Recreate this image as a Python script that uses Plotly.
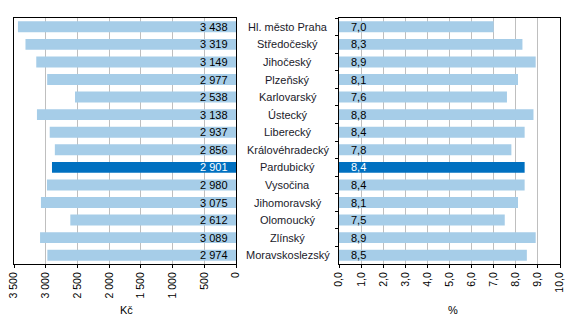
import plotly.graph_objects as go

regions = ["Hl. město Praha", "Středočeský", "Jihočeský", "Plzeňský", "Karlovarský",
           "Ústecký", "Liberecký", "Královéhradecký", "Pardubický", "Vysočina",
           "Jihomoravský", "Olomoucký", "Zlínský", "Moravskoslezský"]
amount_czk = [3438, 3319, 3149, 2977, 2538, 3138, 2937, 2856, 2901, 2980, 3075, 2612, 3089, 2974]
share_pct = [7.0, 8.3, 8.9, 8.1, 7.6, 8.8, 8.4, 7.8, 8.4, 8.4, 8.1, 7.5, 8.9, 8.5]
highlight = "Pardubický"

left_ticks = [3500, 3000, 2500, 2000, 1500, 1000, 500, 0]
right_ticks = [0, 1, 2, 3, 4, 5, 6, 7, 8, 9, 10]

LIGHT = "#A6CDE8"
DARK = "#0070C0"
FONT = "Liberation Sans"

colors = [DARK if r == highlight else LIGHT for r in regions]
txtcolors = ["white" if r == highlight else "black" for r in regions]

W, H = 577, 324
fig = go.Figure()
fig.add_trace(go.Bar(y=regions, x=amount_czk, orientation="h", marker_color=colors,
                     marker_line_width=0, xaxis="x", yaxis="y", hoverinfo="skip"))
fig.add_trace(go.Bar(y=regions, x=share_pct, orientation="h", marker_color=colors,
                     marker_line_width=0, xaxis="x2", yaxis="y2", hoverinfo="skip"))

annotations = []
for r, v, p, c in zip(regions, amount_czk, share_pct, txtcolors):
    annotations.append(dict(x=0, y=r, xref="x", yref="y", text=f"{v:,}".replace(",", " "),
                            xanchor="right", yanchor="middle", xshift=-6, showarrow=False,
                            font=dict(family=FONT, size=11, color=c)))
    annotations.append(dict(x=0, y=r, xref="x2", yref="y2", text=f"{p:.1f}".replace(".", ","),
                            xanchor="left", yanchor="middle", xshift=10, showarrow=False,
                            font=dict(family=FONT, size=11, color=c)))
    annotations.append(dict(x=287.5 / W, y=r, xref="paper", yref="y", text=r,
                            xanchor="center", yanchor="middle", showarrow=False,
                            font=dict(family=FONT, size=11, color="#1a1a2a")))
annotations.append(dict(x=126 / W, y=(H - 310) / H, xref="paper", yref="paper", text="Kč",
                        xanchor="center", yanchor="middle",
                        showarrow=False, font=dict(family=FONT, size=11, color="black")))
annotations.append(dict(x=453 / W, y=(H - 310) / H, xref="paper", yref="paper", text="%",
                        xanchor="center", yanchor="middle",
                        showarrow=False, font=dict(family=FONT, size=11, color="black")))

ydom = [(H - 264) / H, (H - 18) / H]
axis_common = dict(showline=True, linecolor="black", linewidth=1, mirror=True,
                   gridcolor="#BFBFBF", gridwidth=1, zeroline=False, automargin=False,
                   ticks="outside", ticklen=3, tickcolor="black", tickangle=-90,
                   tickfont=dict(family=FONT, size=10.5, color="black"))

fig.update_layout(
    template="none",
    width=W, height=H, margin=dict(l=0, r=0, t=0, b=0, pad=0),
    paper_bgcolor="white", plot_bgcolor="white", showlegend=False,
    bargap=0.38, separators=", ",
    xaxis=dict(domain=[14 / W, 236 / W], range=[3500, 0], tickvals=left_ticks,
               tickformat=",d", anchor="y", **axis_common),
    xaxis2=dict(domain=[339 / W, 560 / W], range=[0, 10], tickvals=right_ticks,
                tickformat=".1f", anchor="y2", **axis_common),
    yaxis=dict(domain=ydom, type="category", autorange="reversed", anchor="x",
               showticklabels=False, showline=True, linecolor="black", mirror=True,
               showgrid=False, ticks="", automargin=False, zeroline=False),
    yaxis2=dict(domain=ydom, type="category", autorange="reversed", anchor="x2",
                showticklabels=False, showline=True, linecolor="black", mirror=True,
                showgrid=False, ticks="outside", ticklen=3, tickcolor="black",
                tickson="boundaries", automargin=False, zeroline=False),
    annotations=annotations,
)

fig.write_html("out.html")
